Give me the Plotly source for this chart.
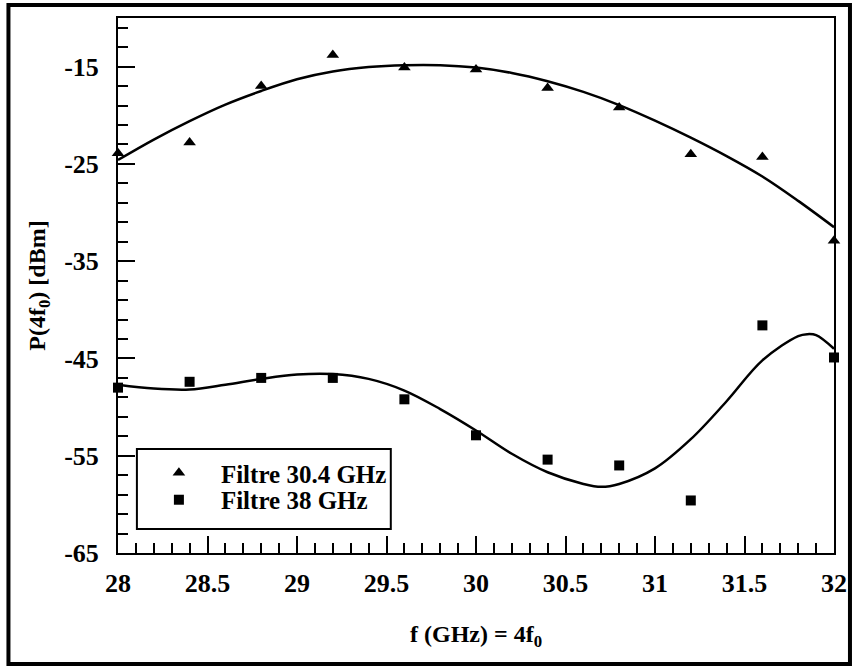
import plotly.graph_objects as go

# Measured fourth-harmonic output power versus frequency
freq = [28.0, 28.4, 28.8, 29.2, 29.6, 30.0, 30.4, 30.8, 31.2, 31.6, 32.0]
p_filtre_304 = [-23.9, -22.8, -17.0, -13.8, -15.1, -15.3, -17.2, -19.2, -24.0, -24.3, -32.9]
p_filtre_38 = [-48.0, -47.4, -47.0, -47.0, -49.2, -52.9, -55.4, -56.0, -59.6, -41.6, -44.9]

# Smoothed fit curves
fit_freq_304 = [28.0, 28.2, 28.4, 28.6, 28.8, 29.0, 29.2, 29.4, 29.6, 29.8, 30.0,
                30.2, 30.4, 30.6, 30.8, 31.0, 31.2, 31.4, 31.6, 31.8, 32.0]
fit_p_304 = [-24.6, -22.5, -20.6, -18.9, -17.5, -16.3, -15.5, -15.05, -14.85, -14.85, -15.1,
             -15.65, -16.5, -17.6, -18.95, -20.55, -22.3, -24.2, -26.3, -28.8, -31.5]
fit_freq_38 = [28.0, 28.2, 28.4, 28.6, 28.8, 29.0, 29.2, 29.4, 29.6, 29.8, 30.0,
               30.2, 30.4, 30.6, 30.7, 30.8, 31.0, 31.2, 31.4, 31.6, 31.8, 31.85, 31.9, 32.0]
fit_p_38 = [-47.7, -48.1, -48.2, -47.7, -47.1, -46.65, -46.6, -47.1, -48.3, -50.2, -52.4,
            -54.8, -56.7, -57.9, -58.2, -57.9, -56.3, -53.3, -49.4, -45.2, -42.7, -42.5, -42.6, -44.0]

x_ticks = [28, 28.5, 29, 29.5, 30, 30.5, 31, 31.5, 32]
y_ticks = [-65, -55, -45, -35, -25, -15]

FONT = "Liberation Serif"
tick_font = dict(family=FONT, size=26, color="black", weight="bold")
text_font = dict(family=FONT, size=24, color="black", weight="bold")
legend_font = dict(family=FONT, size=25, color="black", weight="bold")

fig = go.Figure()
fig.add_trace(go.Scatter(x=fit_freq_304, y=fit_p_304, mode="lines", line=dict(color="black", width=2.5, shape="spline"),
                         showlegend=False, hoverinfo="skip"))
fig.add_trace(go.Scatter(x=fit_freq_38, y=fit_p_38, mode="lines", line=dict(color="black", width=2.5, shape="spline"),
                         showlegend=False, hoverinfo="skip"))
fig.add_trace(go.Scatter(x=freq, y=p_filtre_304, mode="markers", name="Filtre 30.4 GHz", legend="legend",
                         marker=dict(symbol="triangle-up", size=11, color="black"), cliponaxis=False))
fig.add_trace(go.Scatter(x=freq, y=p_filtre_38, mode="markers", name="Filtre 38 GHz", legend="legend2",
                         marker=dict(symbol="square", size=10, color="black"), cliponaxis=False))

axis_common = dict(
    showline=True, linewidth=2, linecolor="black", mirror=True,
    ticks="inside", ticklen=17, tickwidth=2, tickcolor="black",
    showgrid=False, zeroline=False,
    tickfont=tick_font,
)

fig.update_xaxes(
    range=[28, 32], tickvals=x_ticks, ticktext=[f"{v:g}" for v in x_ticks],
    minor=dict(dtick=0.1, tick0=28, ticks="inside", ticklen=10, tickwidth=2, tickcolor="black"),
    ticklabelstandoff=6,
    title=dict(text="f (GHz) = 4f<sub>0</sub>", font=text_font, standoff=28),
    **axis_common,
)
fig.update_yaxes(
    range=[-65, -10], tickvals=y_ticks, ticktext=[str(v) for v in y_ticks],
    minor=dict(dtick=2, tick0=-65, ticks="inside", ticklen=10, tickwidth=2, tickcolor="black"),
    ticklabelstandoff=12,
    title=dict(text="P(4f<sub>0</sub>) [dBm]", font=text_font, standoff=12),
    **axis_common,
)

# Outer frame and legend box
fig.add_shape(type="rect", xref="paper", yref="paper", x0=-0.153, x1=1.0223, y0=-0.2075, y1=1.0243,
              line=dict(color="black", width=4))
fig.add_shape(type="rect", xref="paper", yref="paper", x0=0.0264, x1=0.381, y0=0.0449, y1=0.1944,
              line=dict(color="black", width=2), fillcolor="white", layer="below")

legend_common = dict(x=0.0264, xanchor="left", yanchor="top", bgcolor="rgba(0,0,0,0)",
                     borderwidth=0, itemwidth=74, font=legend_font)

fig.update_layout(
    width=859, height=669,
    margin=dict(l=118, r=22, t=18, b=116),
    paper_bgcolor="white", plot_bgcolor="white",
    font=text_font,
    legend=dict(y=0.1925, **legend_common),
    legend2=dict(y=0.1421, **legend_common),
)

fig.write_html("out.html")
